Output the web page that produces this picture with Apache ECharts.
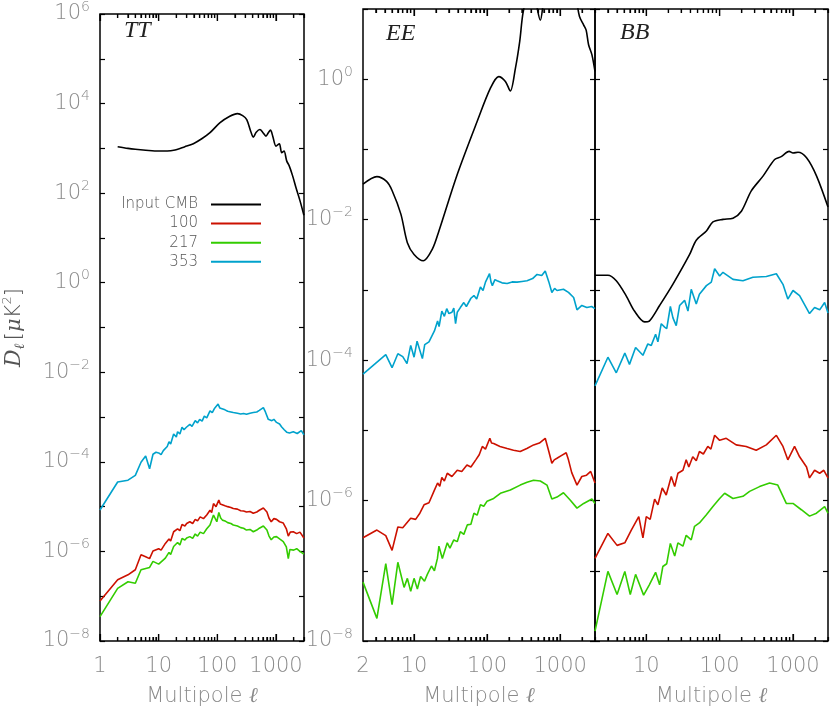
<!DOCTYPE html>
<html>
<head>
<meta charset="utf-8">
<script src="https://cdn.jsdelivr.net/npm/echarts@6/dist/echarts.min.js"></script>
<style>
  html, body { margin: 0; padding: 0; background: #fff; }
  #chart { width: 830px; height: 713px; }
</style>
</head>
<body>
<div id="chart"></div>
<script>
// ---- data: [multipole l, D_l in uK^2] ----
const ttCmb = [[2,1090],[3,1000],[4,955],[6,910],[10,870],[18,910],[28,1090],[39,1270],[55,1660],[75,2240],[110,3700],[163,5200],[220,5970],[270,5400],[317,4400],[370,2420],[410,1780],[460,2290],[532,2630],[600,2240],[674,1880],[740,2240],[806,2550],[880,1870],[1000,1120],[1140,1260],[1250,800],[1370,870],[1520,525],[1680,407],[1920,243],[2180,135],[2560,68],[2990,32]];
const tt100 = [[1,7.8e-8],[2,2.34e-7],[3,3.0e-7],[4,3.9e-7],[5,8.4e-7],[6,7.6e-7],[7,6.9e-7],[8,1.02e-6],[10,1.15e-6],[11,1.07e-6],[13,1.51e-6],[15,1.9e-6],[16,1.7e-6],[18,2.75e-6],[21,3.2e-6],[23,2.9e-6],[25,4.0e-6],[28,3.7e-6],[30,4.2e-6],[34,4.6e-6],[38,4.2e-6],[42,5.2e-6],[46,4.8e-6],[51,5.9e-6],[58,5.4e-6],[66,6.5e-6],[75,8.3e-6],[80,7.4e-6],[86,1.17e-5],[95,1.0e-5],[106,1.4e-5],[112,1.15e-5],[118,1.2e-5],[135,1.05e-5],[150,1.0e-5],[170,9.6e-6],[187,9.1e-6],[220,8.8e-6],[250,8.1e-6],[280,8.0e-6],[314,7.6e-6],[360,7.8e-6],[410,7.1e-6],[470,7.6e-6],[520,8.3e-6],[609,9.3e-6],[650,8.5e-6],[700,7.6e-6],[760,5.5e-6],[829,4.6e-6],[920,5.4e-6],[1020,5.2e-6],[1150,4.6e-6],[1330,4.3e-6],[1500,3.2e-6],[1620,2.2e-6],[1750,2.7e-6],[1970,2.75e-6],[2250,2.5e-6],[2560,2.7e-6],[2990,2.0e-6]];
const tt217 = [[1,3.5e-8],[2,1.5e-7],[3,2.1e-7],[4,1.95e-7],[5,3.9e-7],[7,4.4e-7],[8,6.0e-7],[10,5.2e-7],[13,7.1e-7],[15,9.5e-7],[16,8.5e-7],[18,1.29e-6],[21,1.58e-6],[23,1.4e-6],[25,1.95e-6],[28,1.8e-6],[30,2.0e-6],[34,2.14e-6],[38,1.95e-6],[42,2.45e-6],[46,2.2e-6],[51,2.7e-6],[58,2.5e-6],[66,3.2e-6],[75,3.9e-6],[86,6.5e-6],[98,4.6e-6],[106,7.4e-6],[114,5.6e-6],[122,5.0e-6],[135,4.8e-6],[150,4.4e-6],[170,4.2e-6],[187,3.9e-6],[220,3.7e-6],[250,3.4e-6],[280,3.3e-6],[314,3.0e-6],[360,3.1e-6],[410,2.75e-6],[470,3.0e-6],[520,3.3e-6],[609,3.7e-6],[650,3.4e-6],[700,3.0e-6],[760,2.2e-6],[829,1.82e-6],[920,2.1e-6],[1020,2.14e-6],[1150,1.9e-6],[1330,1.66e-6],[1500,1.26e-6],[1620,6.9e-7],[1720,1.1e-6],[2000,1.07e-6],[2250,1.15e-6],[2560,1.0e-6],[2990,8.7e-7]];
const tt353 = [[1,8.4e-6],[2,3.55e-5],[3,3.9e-5],[4,5.0e-5],[5,9.8e-5],[6,1.35e-4],[7,7.0e-5],[8,1.48e-4],[9,1.64e-4],[10,1.58e-4],[11,1.45e-4],[12,1.78e-4],[14,2.2e-4],[15,2.8e-4],[16,2.5e-4],[18,4.2e-4],[20,3.6e-4],[21,4.7e-4],[23,4.2e-4],[25,5.9e-4],[27,5.2e-4],[30,6.0e-4],[34,6.9e-4],[37,6.2e-4],[42,8.3e-4],[46,7.4e-4],[50,8.9e-4],[55,8.1e-4],[60,1.05e-3],[66,9.6e-4],[75,1.38e-3],[82,1.25e-3],[90,1.58e-3],[103,1.95e-3],[110,1.6e-3],[118,1.48e-3],[135,1.45e-3],[150,1.35e-3],[170,1.3e-3],[187,1.26e-3],[220,1.22e-3],[250,1.17e-3],[280,1.2e-3],[314,1.15e-3],[360,1.22e-3],[410,1.26e-3],[470,1.3e-3],[520,1.41e-3],[609,1.62e-3],[660,1.3e-3],[738,8.9e-4],[850,8.3e-4],[920,8.9e-4],[1020,7.6e-4],[1150,7.0e-4],[1250,6.0e-4],[1380,5.2e-4],[1520,4.6e-4],[1700,4.4e-4],[1970,4.7e-4],[2300,4.3e-4],[2700,5.0e-4],[2990,4.0e-4]];

const eeCmb = [[2,0.032],[3.1,0.041],[4.2,0.035],[5,0.026],[6.6,0.012],[8.1,0.0047],[10,0.0032],[13.4,0.0026],[17.8,0.0038],[21.9,0.0069],[39,0.044],[73,0.25],[111,0.745],[144,1.09],[178,0.93],[208,0.68],[244,1.43],[280,3.5],[312,9.1],[400,25],[470,12],[535,6.9],[600,14],[700,28],[850,35],[1000,38],[1200,30],[1450,20],[1650,14],[1840,7.8],[2100,5.9],[2270,5.0],[2450,3.1],[2720,2.24],[3000,1.29]];
const ee100 = [[2,2.95e-7],[3.1,3.8e-7],[4.1,3.16e-7],[5,1.95e-7],[6,4.2e-7],[7,4.1e-7],[9,5.6e-7],[10.5,5.4e-7],[12,6.6e-7],[13.7,8.7e-7],[16,9.3e-7],[19,1.41e-6],[21,1.78e-6],[22.5,1.6e-6],[24,2.14e-6],[26,1.9e-6],[28.5,2.45e-6],[33,2.2e-6],[39,2.7e-6],[45,2.6e-6],[53,3.2e-6],[60,3.0e-6],[70,3.8e-6],[78,4.5e-6],[86,5.9e-6],[95,5.4e-6],[109,7.7e-6],[115,6.6e-6],[123,6.5e-6],[150,5.9e-6],[188,5.5e-6],[230,5.2e-6],[284,5.0e-6],[350,5.5e-6],[433,6.2e-6],[520,6.6e-6],[625,7.7e-6],[700,5.0e-6],[770,3.4e-6],[830,3.8e-6],[905,4.0e-6],[1050,4.4e-6],[1210,4.8e-6],[1300,3.8e-6],[1440,2.5e-6],[1700,1.66e-6],[1980,2.2e-6],[2300,2.3e-6],[2620,2.6e-6],[3000,1.78e-6]];
const ee217 = [[2,6.9e-8],[3.1,2.1e-8],[4.1,1.26e-7],[5,3.3e-8],[6,1.32e-7],[7.3,5.8e-8],[8.1,7.8e-8],[9,5.1e-8],[10,7.8e-8],[11.1,5.5e-8],[12.3,8.3e-8],[13.9,7.1e-8],[15.2,8.9e-8],[17.3,1.17e-7],[19,1.0e-7],[20.9,1.5e-7],[21.9,2.24e-7],[24.4,1.5e-7],[28.5,2.5e-7],[31,2.1e-7],[35,2.75e-7],[39,2.6e-7],[43,3.6e-7],[48,3.3e-7],[53.5,4.5e-7],[60,4.6e-7],[66,6.6e-7],[73,6.2e-7],[81,8.7e-7],[90,8.3e-7],[100,9.8e-7],[123,1.07e-6],[152,1.27e-6],[208,1.41e-6],[284,1.66e-6],[352,1.82e-6],[433,1.95e-6],[535,1.9e-6],[660,1.66e-6],[770,1.05e-6],[905,1.12e-6],[1110,1.29e-6],[1370,1.02e-6],[1700,7.8e-7],[2100,9.1e-7],[2720,1.05e-6],[3000,9.1e-7]];
const ee353 = [[2,6.3e-5],[4.1,1.2e-4],[5,7.8e-5],[6,1.23e-4],[7,1.12e-4],[8,8.9e-5],[9,1.62e-4],[10,1.1e-4],[11,1.86e-4],[13,1.05e-4],[14,1.66e-4],[16,1.82e-4],[19,2.6e-4],[21,3.6e-4],[22,3.0e-4],[24,5.0e-4],[26,4.2e-4],[28,5.4e-4],[30,4.6e-4],[33,4.8e-4],[35,5.5e-4],[37,3.3e-4],[39,4.8e-4],[43,5.6e-4],[48,6.6e-4],[52,5.8e-4],[55,6.0e-4],[60,7.6e-4],[66,8.3e-4],[72,7.4e-4],[81,1.1e-3],[88,9.8e-4],[95,1.29e-3],[108,1.7e-3],[113,1.3e-3],[118,1.15e-3],[128,1.4e-3],[137,1.35e-3],[160,1.26e-3],[188,1.23e-3],[220,1.3e-3],[257,1.29e-3],[300,1.32e-3],[352,1.35e-3],[420,1.45e-3],[483,1.66e-3],[560,1.6e-3],[625,1.86e-3],[700,1.3e-3],[770,9.2e-4],[840,1.05e-3],[905,9.8e-4],[1110,1.02e-3],[1300,9.2e-4],[1530,7.8e-4],[1700,5.2e-4],[1980,6.0e-4],[2320,5.6e-4],[2700,5.8e-4],[3000,5.4e-4]];

const bbCmb = [[2,1.62e-3],[3,1.62e-3],[3.9,1.35e-3],[5.3,8.3e-4],[6.9,5.0e-4],[9.5,3.5e-4],[11,3.6e-4],[15.2,6.0e-4],[23,1.2e-3],[39,3.2e-3],[48,5.1e-3],[66,6.9e-3],[81,9.3e-3],[111,0.0101],[152,0.0105],[198,0.0132],[270,0.0257],[390,0.0417],[562,0.072],[690,0.079],[885,0.094],[1000,0.089],[1170,0.091],[1530,0.076],[2090,0.042],[3000,0.0151]];
const bb100 = [[2,1.5e-7],[3,3.4e-7],[4,2.3e-7],[5.1,2.5e-7],[6.25,3.8e-7],[7.9,5.9e-7],[9,2.95e-7],[10,5.9e-7],[11.3,5.4e-7],[13,1.05e-6],[14.4,8.7e-7],[16.5,1.51e-6],[18.7,1.2e-6],[21.9,2.2e-6],[24.4,1.58e-6],[27,2.45e-6],[31.6,2.7e-6],[35,3.8e-6],[38,3.0e-6],[43,4.2e-6],[48,3.7e-6],[53,5.0e-6],[60,4.6e-6],[69,5.9e-6],[76,5.4e-6],[85.5,8.5e-6],[100,7.2e-6],[123,7.7e-6],[168,6.2e-6],[230,5.9e-6],[315,5.2e-6],[433,6.2e-6],[593,8.5e-6],[730,5.9e-6],[850,3.8e-6],[1050,5.9e-6],[1230,4.2e-6],[1530,3.0e-6],[1680,2.1e-6],[1970,2.7e-6],[2310,2.45e-6],[2630,2.7e-6],[3000,2.1e-6]];
const bb217 = [[2,1.38e-8],[3,9.8e-8],[4,4.6e-8],[5.1,9.8e-8],[6.05,4.6e-8],[7.15,8.9e-8],[9.2,4.5e-8],[11,6.3e-8],[13.4,9.5e-8],[15.2,6.3e-8],[16.8,1.15e-7],[19,1.26e-7],[21.3,2.45e-7],[24.4,1.62e-7],[27,2.5e-7],[31.6,2.24e-7],[35,3.2e-7],[41,2.75e-7],[45.5,4.3e-7],[53,4.8e-7],[66,6.3e-7],[81,8.2e-7],[100,1.07e-6],[117,1.27e-6],[152,1.07e-6],[208,1.15e-6],[256,1.35e-6],[350,1.58e-6],[480,1.78e-6],[620,1.66e-6],[810,9.1e-7],[1000,9.1e-7],[1300,7.4e-7],[1680,6.0e-7],[2090,6.6e-7],[2700,8.2e-7],[3000,6.6e-7]];
const bb353 = [[2,4.3e-5],[3,1.1e-4],[3.9,6.6e-5],[5.1,1.26e-4],[5.9,8.7e-5],[7.15,1.51e-4],[9,1.17e-4],[10.5,1.7e-4],[11.7,1.62e-4],[13.4,2.34e-4],[14.4,1.82e-4],[16,3.3e-4],[17.8,2.95e-4],[19,2.8e-4],[21.3,5.8e-4],[23.1,4.0e-4],[25.6,3.1e-4],[28.5,6.0e-4],[33.3,7.1e-4],[37,5.0e-4],[41,1.02e-3],[48,6.3e-4],[53,8.7e-4],[66,1.15e-3],[77,1.29e-3],[85.5,2.0e-3],[100,1.58e-3],[111,1.78e-3],[152,1.41e-3],[208,1.35e-3],[284,1.51e-3],[433,1.55e-3],[593,1.7e-3],[730,1.2e-3],[850,7.4e-4],[1000,9.8e-4],[1230,8.3e-4],[1680,4.6e-4],[1970,5.6e-4],[2310,5.2e-4],[2700,6.6e-4],[3000,4.7e-4]];

// ---- tick positions / labels ----
const ttXLabels = [1, 10, 100, 1000];
const eeXLabels = [2, 10, 100, 1000];
const bbXLabels = [10, 100, 1000];
const ttXMajor = [1, 10, 100, 1000];
const polXMajor = [10, 100, 1000];
const ttXMinor = [2,3,4,5,6,7,8,9,20,30,40,50,60,70,80,90,200,300,400,500,600,700,800,900,2000,3000];
const polXMinor = [3,4,5,6,7,8,9,20,30,40,50,60,70,80,90,200,300,400,500,600,700,800,900,2000,3000];
const ttYTicks = [1e-8,1e-7,1e-6,1e-5,1e-4,1e-3,1e-2,1e-1,1,10,100,1e3,1e4,1e5,1e6];
const ttYLabels = [1e-8,1e-6,1e-4,1e-2,1,100,1e4,1e6];
const polYTicks = [1e-8,1e-7,1e-6,1e-5,1e-4,1e-3,1e-2,1e-1,1,10];
const polYLabels = [1e-8,1e-6,1e-4,1e-2,1];

const names = ['Input CMB', '100', '217', '353'];
const colors = ['#000000', '#cc1100', '#33cc00', '#00a2cc'];
const panels = [
    { lines: [ttCmb, tt100, tt217, tt353], yMin: 1e-8, yMax: 1e6, major: ttXMajor, minor: ttXMinor },
    { lines: [eeCmb, ee100, ee217, ee353], yMin: 1e-8, yMax: 10, major: polXMajor, minor: polXMinor },
    { lines: [bbCmb, bb100, bb217, bb353], yMin: 1e-8, yMax: 10, major: polXMajor, minor: polXMinor }
];

const font = 'DejaVu Sans';
const gray = '#8a8a8a';

function powLabel(v) {
    const e = Math.round(Math.log10(v));
    return '{b|10}{e|' + (e < 0 ? '\u2212' + (-e) : e) + '}';
}

const grids = [
    { left: 100, top: 9, width: 204, height: 632 },
    { left: 363, top: 9, width: 232, height: 632 },
    { left: 595, top: 9, width: 233, height: 632 }
].map(g => Object.assign(g, { show: true, borderColor: '#000', borderWidth: 1.5 }));

function tick(values, len) {
    return { show: true, inside: true, length: len, customValues: values, lineStyle: { color: '#000', width: 1.2 } };
}

function makeX(g, min, major, minor, labels) {
    const base = { type: 'log', gridIndex: g, min: min, max: 3000,
        axisLine: { show: false, onZero: false }, splitLine: { show: false } };
    return [
        Object.assign({}, base, {
            position: 'bottom',
            name: 'Multipole {l|\u2113}', nameLocation: 'middle', nameGap: 45,
            nameTextStyle: { fontFamily: font, fontWeight: 200, fontSize: 21, color: gray,
                rich: { l: { fontFamily: 'DejaVu Serif', fontStyle: 'italic', fontWeight: 200, fontSize: 21, color: gray } } },
            axisTick: tick(major, 7),
            axisLabel: { customValues: labels, formatter: v => String(Math.round(v)),
                fontFamily: font, fontWeight: 200, fontSize: 21, color: gray, margin: 15 }
        }),
        Object.assign({}, base, { position: 'bottom', axisTick: tick(minor, 4), axisLabel: { show: false } }),
        Object.assign({}, base, { position: 'top', axisTick: tick(major, 7), axisLabel: { show: false } }),
        Object.assign({}, base, { position: 'top', axisTick: tick(minor, 4), axisLabel: { show: false } })
    ];
}

function makeY(g, min, max, ticks, labels, showLabels) {
    const base = { type: 'log', gridIndex: g, min: min, max: max,
        axisLine: { show: false, onZero: false }, splitLine: { show: false }, axisTick: tick(ticks, 5) };
    const left = Object.assign({}, base, {
        position: 'left',
        axisLabel: showLabels ? {
            customValues: labels, formatter: powLabel, margin: 10, color: gray,
            rich: {
                b: { fontFamily: font, fontWeight: 200, fontSize: 21, color: gray },
                e: { fontFamily: font, fontWeight: 200, fontSize: 14, color: gray, padding: [0, 0, 14, 0] }
            }
        } : { show: false }
    });
    if (g === 0) {
        Object.assign(left, {
            name: '{d|D}{l|\u2113} {n|[}{m|\u03bc}{n|K}{s|2}{n|]}',
            nameLocation: 'middle', nameRotate: 90, nameGap: 72,
            nameTextStyle: {
                color: '#555',
                rich: {
                    d: { fontFamily: 'DejaVu Serif', fontStyle: 'italic', fontSize: 22, color: '#555' },
                    l: { fontFamily: 'DejaVu Serif', fontStyle: 'italic', fontSize: 14, color: '#555', padding: [12, 0, 0, 0] },
                    n: { fontFamily: font, fontWeight: 200, fontSize: 21, color: '#555' },
                    m: { fontFamily: 'DejaVu Serif', fontStyle: 'italic', fontSize: 21, color: '#555' },
                    s: { fontFamily: font, fontWeight: 200, fontSize: 13, color: '#555', padding: [0, 0, 14, 0] }
                }
            }
        });
    }
    const right = Object.assign({}, base, { position: 'right', axisLabel: { show: false } });
    return [left, right];
}

const xAxis = [].concat(
    makeX(0, 1, ttXMajor, ttXMinor, ttXLabels),
    makeX(1, 2, polXMajor, polXMinor, eeXLabels),
    makeX(2, 2, polXMajor, polXMinor, bbXLabels)
);
const yAxis = [].concat(
    makeY(0, 1e-8, 1e6, ttYTicks, ttYLabels, true),
    makeY(1, 1e-8, 10, polYTicks, polYLabels, true),
    makeY(2, 1e-8, 10, polYTicks, polYLabels, false)
);

// extra x tick marks on the top and bottom frame, placed through the axis scales
function tickSeries(g, p) {
    const data = p.major.map(v => [v, 7]).concat(p.minor.map(v => [v, 4]));
    return {
        type: 'custom', xAxisIndex: g * 4, yAxisIndex: g * 2, data: data, silent: true, clip: false, z: 6,
        renderItem: function (params, api) {
            const b = api.coord([api.value(0), p.yMin]);
            const t = api.coord([api.value(0), p.yMax]);
            const len = api.value(1);
            const st = { stroke: '#000', lineWidth: 1.2 };
            return { type: 'group', children: [
                { type: 'line', shape: { x1: b[0], y1: b[1], x2: b[0], y2: b[1] - len }, style: st },
                { type: 'line', shape: { x1: t[0], y1: t[1], x2: t[0], y2: t[1] + len }, style: st }
            ] };
        }
    };
}

const series = [];
panels.forEach((p, g) => {
    p.lines.forEach((d, k) => {
        series.push({
            name: names[k], type: 'line', data: d,
            xAxisIndex: g * 4, yAxisIndex: g * 2,
            symbol: 'none', smooth: k === 0 ? 0.3 : false,
            lineStyle: { color: colors[k], width: 1.6 },
            itemStyle: { color: colors[k] },
            clip: true, silent: true, z: k === 0 ? 3 : 2
        });
    });
    series.push(tickSeries(g, p));
});

const titleStyle = { fontFamily: 'Liberation Serif', fontStyle: 'italic', fontWeight: 'normal', fontSize: 24, color: '#222' };
const title = [
    { text: 'TT', left: 124, top: 19, padding: 0, textStyle: titleStyle },
    { text: 'EE', left: 386, top: 22, padding: 0, textStyle: titleStyle },
    { text: 'BB', left: 620, top: 21, padding: 0, textStyle: titleStyle }
];

const chart = echarts.init(document.getElementById('chart'));
chart.setOption({
    animation: false,
    backgroundColor: '#fff',
    title: title,
    legend: {
        orient: 'vertical', align: 'right', right: 569, top: 197, padding: 0,
        icon: 'rect', itemWidth: 50, itemHeight: 2, itemGap: 4.1,
        data: names,
        textStyle: { fontFamily: font, fontWeight: 200, fontSize: 15, color: '#555', padding: [0, 8, 0, 0] }
    },
    grid: grids,
    xAxis: xAxis,
    yAxis: yAxis,
    series: series
});
</script>
</body>
</html>
